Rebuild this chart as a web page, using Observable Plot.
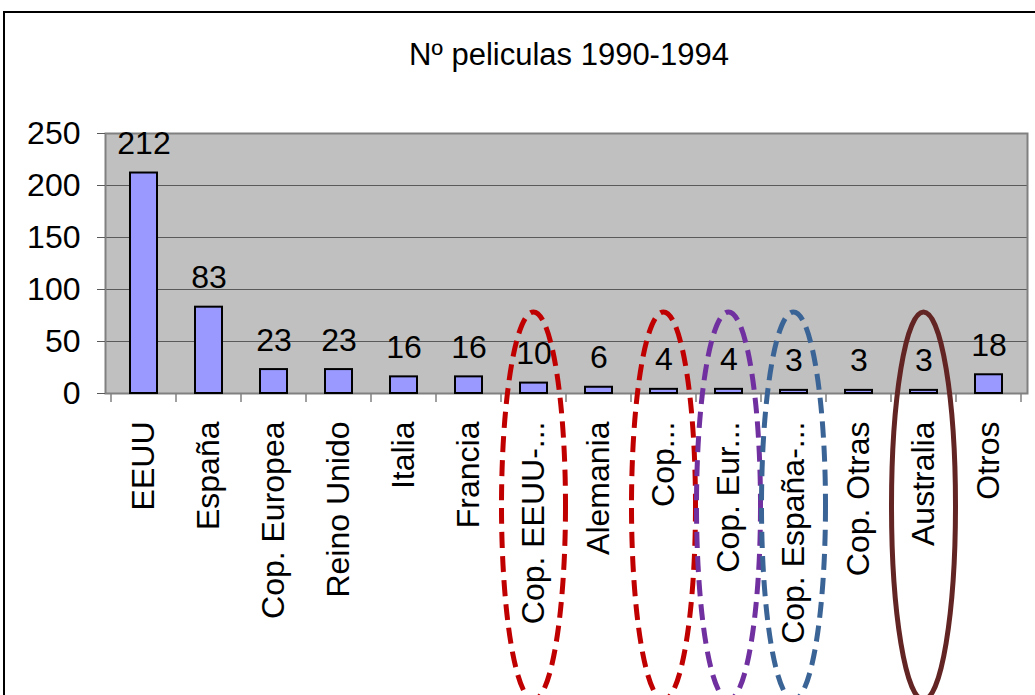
<!DOCTYPE html>
<html>
<head>
<meta charset="utf-8">
<script src="https://cdn.jsdelivr.net/npm/d3@7"></script>
<script src="https://cdn.jsdelivr.net/npm/@observablehq/plot@0.6"></script>
<style>
  html, body { margin: 0; padding: 0; background: #fff; overflow: hidden; width: 1035px; height: 695px; }
  #frame { position: absolute; left: 3px; top: 11px; width: 1200px; height: 900px; border: 2px solid #000; }
  #title { position: absolute; left: 0; top: 39px; width: 1138px; text-align: center;
           font-family: "Liberation Sans", Arial, sans-serif; font-size: 31px; line-height: 31px; color: #000; }
  #chart { position: absolute; left: 0; top: 100px; }
</style>
</head>
<body>
<div id="frame"></div>
<div id="title">Nº peliculas 1990-1994</div>
<div id="chart"></div>
<script>
const categories = ["EEUU", "España", "Cop. Europea", "Reino Unido", "Italia", "Francia", "Cop. EEUU-...", "Alemania", "Cop...", "Cop. Eur...", "Cop. España-...", "Cop. Otras", "Australia", "Otros"];
const values = [212, 83, 23, 23, 16, 16, 10, 6, 4, 4, 3, 3, 3, 18];
const yTicks = [0, 50, 100, 150, 200, 250];
const highlightCats = ["Cop. EEUU-...", "Cop...", "Cop. Eur...", "Cop. España-...", "Australia"];
const highlightColors = ["#C00000", "#C00000", "#7030A0", "#3B6496", "#632523"];
const highlightDashed = [true, true, true, true, false];

const data = categories.map((c, i) => ({cat: c, value: values[i]}));
const highlights = highlightCats.map((c, i) => ({cat: c, color: highlightColors[i], dashed: highlightDashed[i]}));

const FONT = "Liberation Sans, Arial, sans-serif";
const NS = "http://www.w3.org/2000/svg";

// band-boundary tick marks under the x axis
function boundaryTicks(index, scales, values, dimensions) {
  const x = scales.x, y = scales.y;
  const g = document.createElementNS(NS, "g");
  const step = x.step(), bw = x.bandwidth();
  const y0 = y(0);
  const edges = categories.map(c => x(c) - (step - bw) / 2);
  edges.push(x(categories[categories.length - 1]) + bw + (step - bw) / 2);
  for (const ex of edges) {
    const l = document.createElementNS(NS, "line");
    l.setAttribute("x1", ex); l.setAttribute("x2", ex);
    l.setAttribute("y1", y0); l.setAttribute("y2", y0 + 9);
    l.setAttribute("stroke", "#808080"); l.setAttribute("stroke-width", 1.5);
    g.appendChild(l);
  }
  return g;
}

// highlight ellipses anchored to categories
function ellipses(index, scales, values, dimensions) {
  const x = scales.x, y = scales.y;
  const g = document.createElementNS(NS, "g");
  const bw = x.bandwidth();
  const top = y(78);
  const ry = 194;
  for (const h of highlights) {
    const e = document.createElementNS(NS, "ellipse");
    e.setAttribute("cx", x(h.cat) + bw / 2);
    e.setAttribute("cy", top + ry);
    e.setAttribute("rx", 32);
    e.setAttribute("ry", ry);
    e.setAttribute("fill", "none");
    e.setAttribute("stroke", h.color);
    e.setAttribute("stroke-width", h.dashed ? 5 : 5);
    if (h.dashed) e.setAttribute("stroke-dasharray", "16,8");
    g.appendChild(e);
  }
  return g;
}

const chart = Plot.plot({
  width: 1035,
  height: 595,
  marginLeft: 105,
  marginRight: 8,
  marginTop: 33,
  marginBottom: 302,
  style: {fontFamily: FONT, fontSize: "32px", color: "#000", background: "transparent", overflow: "visible"},
  x: {domain: categories, paddingInner: 0.59, paddingOuter: 0.295, label: null},
  y: {domain: [0, 250], label: null},
  marks: [
    Plot.frame({fill: "#C0C0C0", stroke: "none"}),
    Plot.gridY(yTicks, {stroke: "#5a5a5a", strokeOpacity: 1, strokeWidth: 1}),
    Plot.frame({stroke: "#808080", strokeWidth: 2}),
    Plot.axisY(yTicks, {tickSize: 8, tickPadding: 17, fontSize: 32, stroke: "#5a5a5a", label: null}),
    Plot.axisX({tickSize: 0, tickPadding: 28, tickRotate: -90, fontSize: 32, label: null}),
    Plot.barY(data, {x: "cat", y: "value", fill: "#9999FF", stroke: "#000", strokeWidth: 2}),
    Plot.text(data, {x: "cat", y: "value", text: d => String(d.value), dy: -19, lineAnchor: "bottom", fontSize: 32, fill: "#000"}),
    boundaryTicks,
    ellipses
  ]
});
document.getElementById("chart").appendChild(chart);
</script>
</body>
</html>
